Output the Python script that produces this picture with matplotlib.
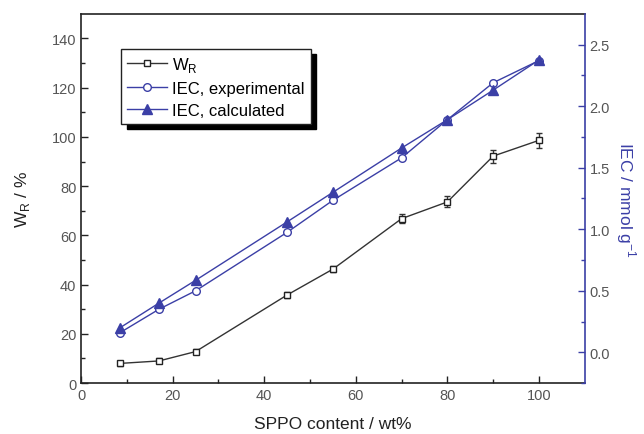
import matplotlib.pyplot as plt
from matplotlib.lines import Line2D
import numpy as np

params = {
    'font.family': ['Liberation Sans', 'DejaVu Sans'],
    'font.size': 10,
    'xtick.labelsize': 10.5,
    'ytick.labelsize': 10.5,
    'axes.labelsize': 12.5,
}
plt.rcParams.update(params)

sppo = [8.5, 17, 25, 45, 55, 70, 80, 90, 100]
w_r = [8, 9, 12.8, 35.8, 46.3, 66.8, 73.6, 92.2, 98.6]
w_r_err = [1.0, 1.0, 1.0, 1.2, 1.2, 1.8, 2.2, 2.6, 3.0]
iec_exp = [0.16, 0.35, 0.50, 0.975, 1.235, 1.58, 1.89, 2.19, 2.37]
iec_calc = [0.20, 0.40, 0.585, 1.06, 1.30, 1.66, 1.89, 2.13, 2.375]

blue = '#3b3fa6'
tick_grey = '#555555'

fig = plt.figure(figsize=(6.44, 4.35), dpi=100)
ax = fig.add_axes([0.126, 0.117, 0.782, 0.849])
ax2 = ax.twinx()

# W_R on the left axis
ax.errorbar(sppo, w_r, yerr=w_r_err, color='#333333', lw=1, marker='s', ms=5,
            mfc='white', mec='#222222', mew=1, capsize=2.5, elinewidth=1)

# IEC on the right axis
ax2.plot(sppo, iec_exp, color=blue, lw=1, marker='o', ms=5.5, mfc='white',
         mec=blue, mew=1)
ax2.plot(sppo, iec_calc, color=blue, lw=1, marker='^', ms=6.5, mfc=blue, mec=blue)

ax.set_xlim(0, 110)
ax.set_ylim(0, 150)
ax2.set_ylim(-0.25, 2.75)

ax.set_xticks([0, 20, 40, 60, 80, 100])
ax.set_xticks(np.arange(10, 110, 20), minor=True)
ax.set_yticks(np.arange(0, 141, 20))
ax.set_yticks(np.arange(10, 150, 20), minor=True)
ax2.set_yticks([0.0, 0.5, 1.0, 1.5, 2.0, 2.5])
ax2.set_yticks([-0.25, 0.25, 0.75, 1.25, 1.75, 2.25], minor=True)
ax2.yaxis.set_major_formatter(plt.FormatStrFormatter('%.1f'))

ax.tick_params(which='both', direction='in', colors='#222222', labelcolor=tick_grey,
               top=False, right=False, width=1)
ax.tick_params(which='major', length=5)
ax.tick_params(which='minor', length=3)
ax2.tick_params(which='both', direction='in', colors=blue, labelcolor=tick_grey, width=1)
ax2.tick_params(which='major', length=5)
ax2.tick_params(which='minor', length=3)

for side in ['left', 'bottom', 'top']:
    ax.spines[side].set_linewidth(1.2)
    ax.spines[side].set_color('#222222')
ax2.spines['right'].set_color(blue)
ax2.spines['right'].set_linewidth(1.2)
ax2.spines['left'].set_visible(False)
ax2.spines['top'].set_visible(False)
ax2.spines['bottom'].set_visible(False)
ax.spines['right'].set_visible(False)

ax.set_xlabel('SPPO content / wt%', color='#222222', labelpad=10)
ax.set_ylabel('W$_\\mathregular{R}$ / %', color='#222222', labelpad=14)
ax2.set_ylabel('IEC / mmol g$^{\\mathregular{-1}}$', color=blue, rotation=270, labelpad=20)

# legend handles: line - marker - line, as in the original
h1 = Line2D([], [], color='#333333', lw=1, marker='s', ms=4.5, mfc='white', mec='#222222')
h2 = Line2D([], [], color=blue, lw=1, marker='o', ms=5.5, mfc='white', mec=blue)
h3 = Line2D([], [], color=blue, lw=1, marker='^', ms=6.5, mfc=blue, mec=blue)
leg = ax.legend([h1, h2, h3], ['W$_\\mathregular{R}$', 'IEC, experimental', 'IEC, calculated'],
                loc='upper left', bbox_to_anchor=(0.08, 0.905), fancybox=False,
                shadow={'color': 'black', 'alpha': 1, 'ox': 4, 'oy': -4},
                edgecolor='#222222', framealpha=1, fontsize=12, handlelength=2.4,
                handletextpad=0.3, borderpad=0.35, labelspacing=0.42, borderaxespad=0)
leg.get_frame().set_linewidth(1)

plt.savefig('out.png', dpi=100)
plt.close()
